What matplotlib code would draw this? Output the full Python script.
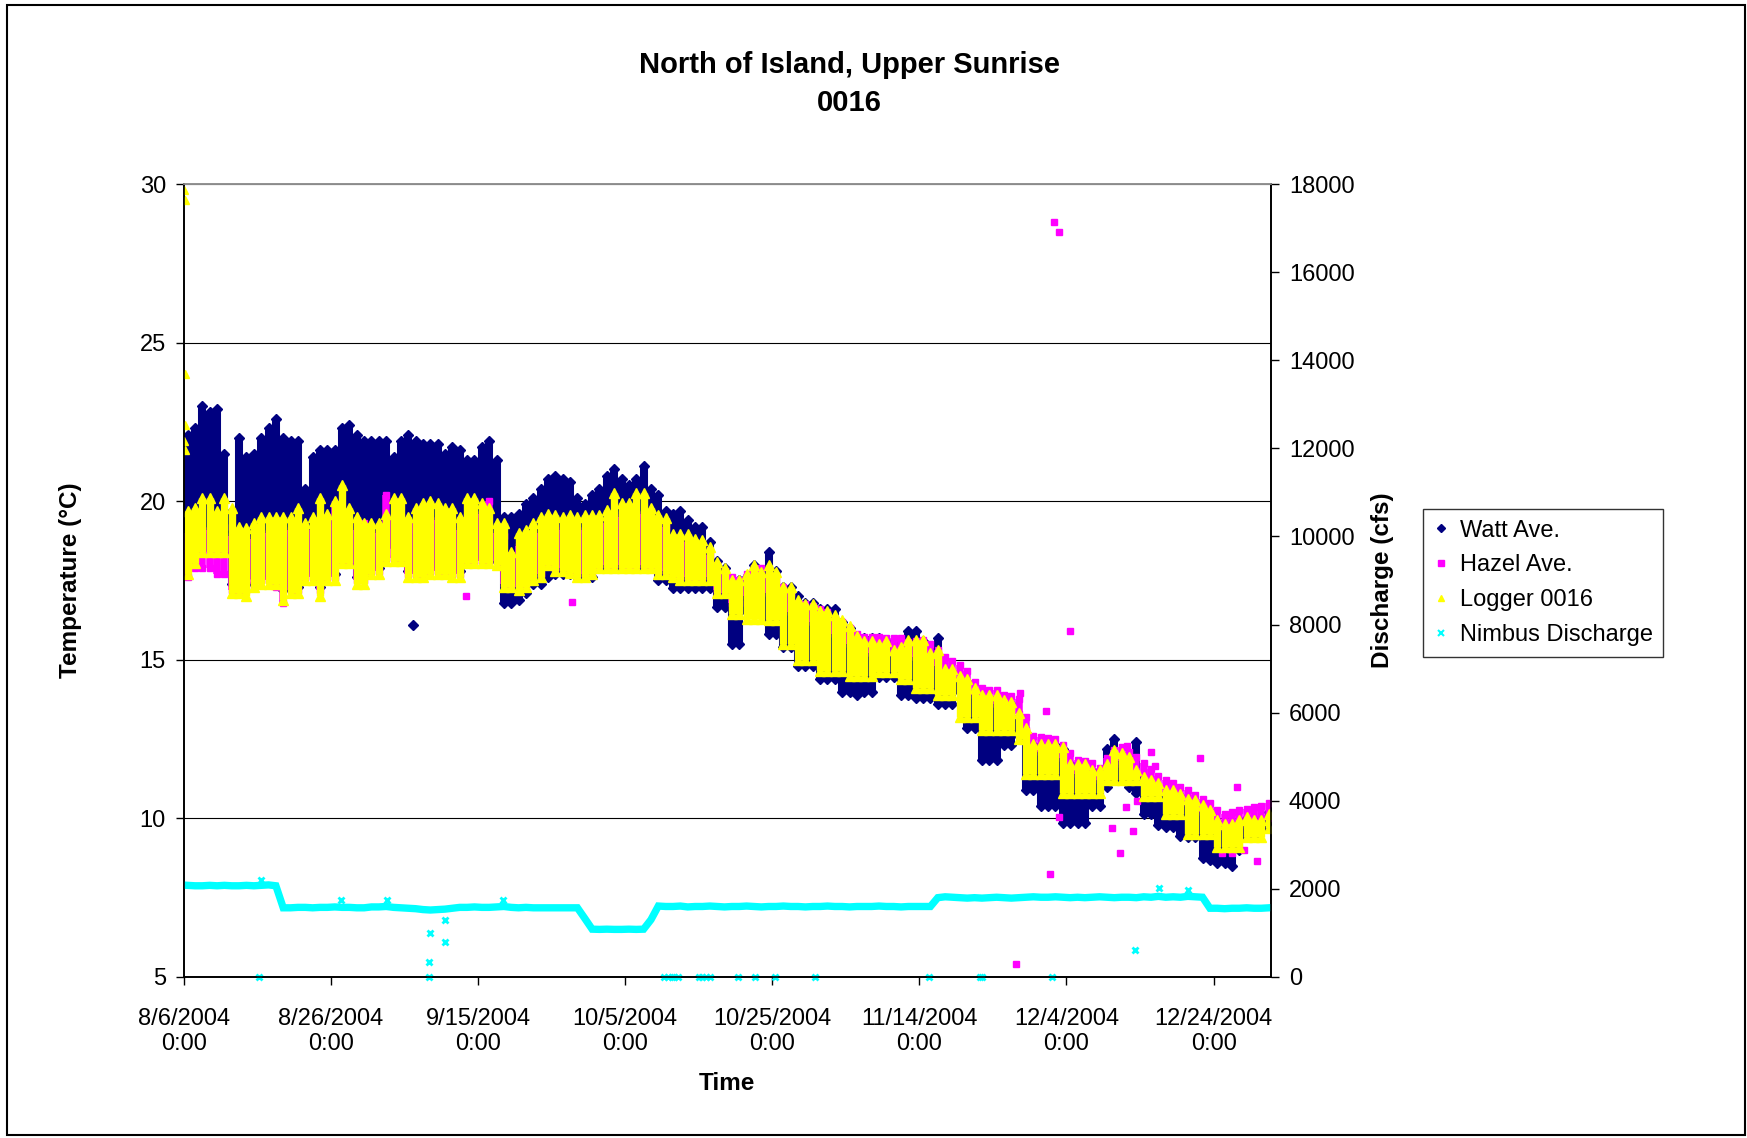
import numpy as np
import matplotlib
matplotlib.use("Agg")
import matplotlib.pyplot as plt
from matplotlib.lines import Line2D
from matplotlib.patches import Rectangle

plt.rcParams["font.family"] = ["Liberation Sans", "DejaVu Sans"]

title_lines = ["North of Island, Upper Sunrise", "0016"]
series_names = ["Watt Ave.", "Hazel Ave.", "Logger 0016", "Nimbus Discharge"]
tick_days = [0, 20, 40, 60, 80, 100, 120, 140]
tick_labels = ["8/6/2004\n0:00", "8/26/2004\n0:00", "9/15/2004\n0:00", "10/5/2004\n0:00",
               "10/25/2004\n0:00", "11/14/2004\n0:00", "12/4/2004\n0:00", "12/24/2004\n0:00"]

# daily max / min temperature (°C), day 0 = 8/6/2004
watt_max = [22.1, 22.3, 23.0, 22.8, 22.9, 21.5, 19.7, 22.0, 21.4, 21.5,
            22.0, 22.3, 22.6, 22.0, 21.9, 21.9, 20.4, 21.4, 21.6, 21.6,
            21.6, 22.3, 22.4, 22.1, 21.9, 21.9, 21.9, 21.9, 21.4, 21.9,
            22.1, 21.9, 21.8, 21.8, 21.8, 21.5, 21.7, 21.6, 21.3, 21.3,
            21.7, 21.9, 21.3, 19.5, 19.5, 19.6, 19.9, 20.1, 20.4, 20.7,
            20.8, 20.7, 20.6, 20.1, 19.9, 20.2, 20.4, 20.8, 21.0, 20.7,
            20.5, 20.7, 21.1, 20.4, 20.2, 19.7, 19.6, 19.7, 19.4, 19.2,
            19.2, 18.7, 18.1, 17.9, 17.5, 17.5, 17.6, 18.0, 17.8, 18.4,
            17.8, 17.3, 17.3, 17.0, 16.8, 16.8, 16.6, 16.6, 16.6, 16.2,
            16.0, 15.7, 15.7, 15.7, 15.7, 15.6, 15.5, 15.5, 15.9, 15.9,
            15.6, 15.3, 15.7, 14.7, 14.6, 14.4, 14.3, 14.0, 13.8, 13.8,
            13.8, 13.6, 13.6, 13.2, 12.7, 12.3, 12.3, 12.3, 12.3, 12.2,
            11.7, 11.7, 11.7, 11.5, 11.5, 12.2, 12.5, 12.0, 11.9, 12.4,
            11.3, 11.1, 11.0, 10.8, 10.8, 10.7, 10.5, 10.5, 10.3, 10.2,
            9.9, 9.8, 9.8, 9.9, 10.0, 9.9, 10.0, 10.2]
watt_min = [18.8, 18.3, 18.5, 18.5, 18.5, 18.5, 17.4, 17.3, 17.4, 17.6,
            17.6, 17.6, 17.6, 17.2, 17.3, 17.3, 17.7, 17.7, 17.3, 17.7,
            17.7, 18.2, 18.2, 17.6, 17.6, 17.9, 17.9, 18.6, 18.6, 18.3,
            17.8, 17.8, 17.8, 17.9, 17.9, 17.9, 17.8, 17.8, 18.2, 18.2,
            18.2, 18.2, 18.1, 16.8, 16.8, 16.9, 17.1, 17.4, 17.4, 17.6,
            17.7, 17.7, 17.7, 17.6, 17.6, 17.6, 17.9, 17.9, 17.9, 17.9,
            17.9, 17.9, 17.9, 17.9, 17.5, 17.5, 17.25, 17.25, 17.25, 17.25,
            17.25, 17.25, 16.65, 16.65, 15.5, 15.5, 16.5, 16.5, 16.5, 15.8,
            15.8, 15.4, 15.4, 14.8, 14.8, 14.8, 14.4, 14.4, 14.4, 14.0,
            14.0, 13.9, 14.0, 14.0, 14.45, 14.45, 14.45, 13.9, 13.9, 13.8,
            13.8, 13.8, 13.6, 13.6, 13.6, 14.0, 12.85, 12.85, 11.85, 11.85,
            11.85, 12.3, 12.3, 12.6, 10.9, 10.9, 10.4, 10.4, 10.4, 9.85,
            9.85, 9.85, 9.85, 10.4, 10.4, 11.0, 11.2, 11.2, 11.0, 10.8,
            10.14, 10.14, 9.8, 9.72, 9.72, 9.45, 9.4, 9.4, 8.75, 8.7,
            8.6, 8.6, 8.5, 9.0, 9.4, 9.4, 9.7, 9.7]

hazel_max = [19.0, 18.9, 19.1, 19.1, 19.0, 19.2, 18.9, 18.6, 18.7, 18.8,
             19.0, 19.0, 19.1, 19.0, 19.1, 19.2, 18.9, 19.1, 19.4, 19.2,
             19.9, 19.6, 19.3, 19.1, 19.3, 19.0, 19.0, 20.2, 19.5, 19.5,
             19.1, 19.3, 19.4, 19.4, 19.4, 19.3, 19.3, 19.1, 19.5, 19.6,
             19.6, 20.0, 19.0, 18.9, 18.3, 18.6, 18.7, 18.9, 19.0, 19.2,
             19.2, 19.1, 19.1, 19.1, 19.1, 19.1, 19.2, 19.3, 19.6, 19.5,
             19.5, 19.6, 19.6, 19.5, 19.3, 19.2, 18.8, 18.7, 18.7, 18.6,
             18.5, 18.3, 18.0, 17.8, 17.6, 17.5, 17.7, 17.9, 17.9, 17.7,
             17.5, 17.3, 17.1, 16.8, 16.75, 16.7, 16.6, 16.5, 16.3, 16.2,
             16.0, 15.8, 15.72, 15.72, 15.73, 15.7, 15.7, 15.68, 15.55, 15.6,
             15.63, 15.5, 15.3, 15.1, 14.95, 14.85, 14.65, 14.3, 14.1, 14.05,
             14.05, 13.9, 13.85, 13.75, 13.2, 12.6, 12.55, 12.52, 12.5, 12.3,
             12.05, 11.85, 11.8, 11.75, 11.6, 11.9, 12.15, 12.26, 12.1, 11.95,
             11.75, 11.57, 11.35, 11.2, 11.1, 11.0, 10.9, 10.75, 10.6, 10.47,
             10.25, 10.15, 10.2, 10.26, 10.3, 10.35, 10.4, 10.47]
hazel_min = [17.6, 17.9, 17.9, 17.9, 17.7, 17.7, 17.2, 17.1, 17.2, 17.4,
             17.5, 17.5, 17.3, 16.8, 17.2, 17.2, 17.6, 17.6, 17.2, 17.6,
             17.6, 18.1, 18.1, 17.5, 17.5, 17.8, 17.8, 18.2, 18.2, 18.2,
             17.7, 17.7, 17.7, 17.8, 17.8, 17.8, 17.7, 17.7, 18.1, 18.1,
             18.1, 18.1, 18.1, 17.4, 17.4, 17.3, 17.4, 17.6, 17.7, 18.0,
             17.9, 17.9, 17.8, 17.7, 17.7, 17.8, 18.0, 18.0, 18.0, 18.0,
             18.0, 18.0, 18.0, 18.0, 17.8, 17.8, 17.7, 17.6, 17.6, 17.6,
             17.6, 17.6, 17.2, 17.1, 16.8, 16.8, 17.0, 17.3, 17.3, 17.1,
             16.9, 16.7, 16.5, 16.3, 16.2, 16.2, 16.1, 16.0, 15.8, 15.7,
             15.5, 15.3, 15.2, 15.2, 15.2, 15.2, 15.2, 15.2, 15.1, 15.1,
             15.1, 15.0, 14.8, 14.6, 14.5, 14.4, 14.2, 13.9, 13.7, 13.6,
             13.6, 13.5, 13.4, 13.3, 12.8, 12.2, 12.1, 12.1, 12.0, 11.9,
             11.6, 11.4, 11.4, 11.3, 11.2, 11.4, 11.7, 11.8, 11.7, 11.5,
             11.3, 11.1, 10.9, 10.8, 10.7, 10.6, 10.5, 10.3, 10.2, 10.0,
             9.8, 9.7, 9.8, 9.8, 9.9, 9.9, 10.0, 10.0]

logger_max = [19.7, 19.8, 20.1, 20.1, 19.7, 20.1, 19.8, 19.2, 19.15, 19.3,
              19.5, 19.5, 19.5, 19.5, 19.5, 19.8, 19.3, 19.5, 20.1, 19.6,
              20.0, 20.5, 19.8, 19.5, 19.3, 19.3, 19.3, 19.6, 20.1, 20.1,
              19.5, 19.8, 19.95, 20.0, 19.95, 19.8, 19.8, 19.5, 20.1, 20.1,
              19.95, 19.8, 19.3, 19.3, 18.4, 19.0, 19.1, 19.3, 19.5, 19.6,
              19.56, 19.5, 19.56, 19.5, 19.56, 19.56, 19.56, 19.72, 20.25, 19.93,
              19.93, 20.25, 20.25, 19.77, 19.56, 19.46, 18.98, 18.98, 18.98, 18.82,
              18.77, 18.56, 18.08, 17.9, 17.5, 17.5, 17.7, 17.98, 17.77, 17.98,
              17.77, 17.3, 17.3, 16.87, 16.76, 16.76, 16.55, 16.55, 16.4, 16.24,
              16.08, 15.76, 15.6, 15.6, 15.5, 15.6, 15.3, 15.4, 15.63, 15.63,
              15.63, 15.2, 15.3, 14.7, 14.7, 14.5, 14.4, 14.1, 13.9, 13.9,
              13.9, 13.73, 13.68, 13.31, 12.84, 12.36, 12.36, 12.36, 12.36, 12.26,
              11.73, 11.73, 11.73, 11.52, 11.52, 11.73, 12.15, 12.05, 11.94, 11.52,
              11.31, 11.2, 11.1, 10.89, 10.89, 10.78, 10.62, 10.57, 10.41, 10.25,
              9.94, 9.83, 9.83, 9.94, 10.04, 9.94, 9.94, 10.15]
logger_min = [17.7, 18.05, 18.4, 18.4, 18.4, 18.4, 17.1, 17.1, 17.0, 17.3,
              17.4, 17.4, 17.4, 16.9, 17.1, 17.1, 17.5, 17.5, 17.0, 17.5,
              17.5, 18.05, 18.05, 17.4, 17.4, 17.7, 17.7, 18.1, 18.1, 18.1,
              17.6, 17.6, 17.6, 17.7, 17.7, 17.7, 17.6, 17.6, 18.05, 18.05,
              18.05, 18.05, 18.0, 17.3, 17.3, 17.2, 17.3, 17.5, 17.6, 18.0,
              17.8, 17.8, 17.75, 17.6, 17.6, 17.7, 17.9, 17.9, 17.9, 17.9,
              17.9, 17.9, 17.9, 17.9, 17.7, 17.7, 17.6, 17.5, 17.5, 17.5,
              17.5, 17.5, 17.1, 17.1, 16.45, 16.45, 16.3, 16.3, 16.3, 16.24,
              16.24, 15.5, 15.5, 15.0, 15.0, 15.0, 14.65, 14.65, 14.65, 14.65,
              14.5, 14.5, 14.5, 14.5, 14.6, 14.6, 14.6, 14.4, 14.4, 14.1,
              14.1, 14.1, 13.9, 13.9, 13.9, 13.2, 13.2, 13.2, 12.8, 12.8,
              12.8, 12.8, 12.8, 12.5, 11.4, 11.4, 11.4, 11.4, 11.4, 10.8,
              10.8, 10.8, 10.8, 10.8, 10.8, 11.2, 11.2, 11.2, 11.2, 11.2,
              10.7, 10.7, 10.7, 10.15, 10.15, 10.15, 9.5, 9.5, 9.5, 9.5,
              9.1, 9.1, 9.1, 9.1, 9.4, 9.4, 9.4, 9.7]

# daily Nimbus discharge (cfs)
nimbus = [2080, 2070, 2070, 2080, 2070, 2080, 2070, 2070, 2080, 2070,
          2080, 2090, 2070, 1570, 1570, 1580, 1580, 1570, 1580, 1580,
          1590, 1580, 1580, 1570, 1570, 1590, 1590, 1600, 1580, 1570,
          1560, 1550, 1530, 1520, 1530, 1540, 1560, 1580, 1580, 1590,
          1580, 1580, 1590, 1600, 1580, 1570, 1580, 1570, 1570, 1570,
          1570, 1570, 1570, 1570, 1330, 1085, 1080, 1085, 1080, 1080,
          1085, 1080, 1085, 1300, 1610, 1600, 1600, 1610, 1590, 1600,
          1600, 1610, 1600, 1590, 1600, 1600, 1610, 1600, 1590, 1600,
          1600, 1610, 1600, 1600, 1590, 1600, 1600, 1610, 1600, 1600,
          1590, 1600, 1600, 1600, 1610, 1600, 1600, 1590, 1600, 1600,
          1600, 1600, 1800, 1820, 1810, 1800, 1790, 1800, 1790, 1800,
          1810, 1800, 1790, 1800, 1810, 1820, 1810, 1810, 1820, 1810,
          1800, 1810, 1800, 1810, 1820, 1810, 1800, 1810, 1810, 1800,
          1820, 1810, 1830, 1810, 1820, 1810, 1830, 1820, 1810, 1560,
          1560, 1550, 1560, 1560, 1570, 1560, 1560, 1570]

# isolated readings away from the daily bands
logger_spike_day = [0.05, 0.2, 0.1, 0.1, 0.05, 0.15]
logger_spike_val = [29.8, 29.5, 24.0, 22.4, 21.9, 21.6]
watt_spike_day = [31.1]
watt_spike_val = [16.1]
hazel_spike_day = [38.4, 52.7, 113.2, 113.7, 117.2, 117.7, 118.3, 119.0, 119.0, 120.5,
                   126.2, 127.3, 128.1, 128.2, 129.0, 129.6, 131.5, 132.1, 138.1, 143.2,
                   144.2, 145.9, 141.1, 142.5]
hazel_spike_val = [17.0, 16.83, 5.4, 13.96, 13.4, 8.25, 28.8, 28.5, 10.05, 15.9,
                   9.7, 8.9, 10.35, 12.27, 9.6, 10.55, 12.1, 11.65, 11.9, 11.0,
                   9.0, 8.66, 8.9, 8.9]
nimbus_spike_day = [10.2, 10.5, 21.3, 27.6, 33.3, 33.3, 33.5, 35.5, 35.5, 43.4,
                    65.3, 65.8, 66.3, 66.7, 67.2, 70.0, 70.5, 71.0, 71.5, 75.3,
                    77.7, 80.4, 85.8, 101.3, 108.2, 108.5, 118.0, 129.3, 132.6, 136.5]
nimbus_spike_val = [0, 2200, 1750, 1750, 0, 340, 990, 1290, 790, 1750,
                    0, 0, 0, 0, 0, 0, 0, 0, 0, 0,
                    0, 0, 0, 0, 0, 0, 0, 620, 2010, 1975]

navy = "#000080"
pink = "#FF00FF"
yellow = "#FFFF00"
cyan = "#00FFFF"

days = np.arange(len(watt_max)) + 0.5

fig = plt.figure(figsize=(17.47, 11.38), dpi=100)
ax = fig.add_axes([0.1053, 0.1415, 0.6222, 0.6968])
ax2 = ax.twinx()

# Watt Ave. (back), Hazel Ave., Logger 0016 (front)
ax.vlines(days, watt_min, watt_max, color=navy, lw=5.8, zorder=2)
ax.plot(days, watt_max, "D", color=navy, ms=5.5, zorder=2)
ax.plot(days, watt_min, "D", color=navy, ms=5.5, zorder=2)
ax.plot(watt_spike_day, watt_spike_val, "D", color=navy, ms=5, zorder=2)

ax.vlines(days, hazel_min, hazel_max, color=pink, lw=5.4, zorder=3)
ax.plot(days, hazel_max, "s", color=pink, ms=4.8, zorder=3)
ax.plot(days, hazel_min, "s", color=pink, ms=4.8, zorder=3)
ax.plot(hazel_spike_day, hazel_spike_val, "s", color=pink, ms=4.6, zorder=3)

ax.vlines(days, logger_min, logger_max, color=yellow, lw=5.3, zorder=4)
ax.plot(days, logger_max, "^", color=yellow, ms=6.5, zorder=4)
ax.plot(days, logger_min, "^", color=yellow, ms=6.5, zorder=4)
ax.plot(logger_spike_day, logger_spike_val, "^", color=yellow, ms=6, zorder=4)

ax2.plot(days, nimbus, color=cyan, lw=5.3, solid_joinstyle="miter")
ax2.plot(nimbus_spike_day, nimbus_spike_val, "x", color=cyan, ms=5, mew=2, clip_on=False)

ax.set_xlim(0, 147.8)
ax.set_ylim(5, 30)
ax2.set_ylim(0, 18000)
ax.set_yticks([5, 10, 15, 20, 25, 30])
ax2.set_yticks(range(0, 18001, 2000))
ax.set_xticks(tick_days)
ax.set_xticklabels(tick_labels, linespacing=1.2)

ax.grid(axis="y", color="black", lw=0.8)
ax.set_axisbelow(True)
for a in (ax, ax2):
    a.spines["top"].set_color("#909090")
    a.spines["top"].set_linewidth(1.2)
    for s in ("left", "right", "bottom"):
        a.spines[s].set_linewidth(1.2)
ax.tick_params(axis="y", direction="out", length=6, width=1, labelsize=17, pad=7)
ax.tick_params(axis="x", direction="out", length=6, width=1, labelsize=17, pad=16)
ax2.tick_params(axis="y", direction="out", length=6, width=1, labelsize=17, pad=7)

fig.text(0.486, 1 - 65 / 1138, title_lines[0], ha="center", va="center",
         fontsize=21, fontweight="bold")
fig.text(0.486, 1 - 103 / 1138, title_lines[1], ha="center", va="center",
         fontsize=21, fontweight="bold")
fig.text(71 / 1747, 1 - 580 / 1138, "Temperature (°C)", rotation=90, ha="center",
         va="center", fontsize=17.5, fontweight="bold")
fig.text(1382 / 1747, 1 - 580 / 1138, "Discharge (cfs)", rotation=90, ha="center",
         va="center", fontsize=17.5, fontweight="bold")
fig.text(727 / 1747, 1 - 1083 / 1138, "Time", ha="center", va="center",
         fontsize=17.5, fontweight="bold")

handles = [
    Line2D([], [], ls="none", marker="D", color=navy, ms=4),
    Line2D([], [], ls="none", marker="s", color=pink, ms=4),
    Line2D([], [], ls="none", marker="^", color=yellow, ms=5),
    Line2D([], [], ls="none", marker="x", color=cyan, ms=4, mew=1.5),
]
leg = fig.legend(handles, series_names, loc="upper left", bbox_to_anchor=(0.8145, 0.5527),
                 fontsize=17, frameon=True, fancybox=False, edgecolor="black",
                 borderpad=0.45, labelspacing=0.54, handlelength=0.6, handletextpad=0.5,
                 borderaxespad=0)
leg.get_frame().set_linewidth(1.0)

fig.patches.append(Rectangle((0.004, 0.003), 0.995, 0.993, transform=fig.transFigure,
                             fill=False, ec="black", lw=1.5))

fig.savefig("out.png", dpi=100)
